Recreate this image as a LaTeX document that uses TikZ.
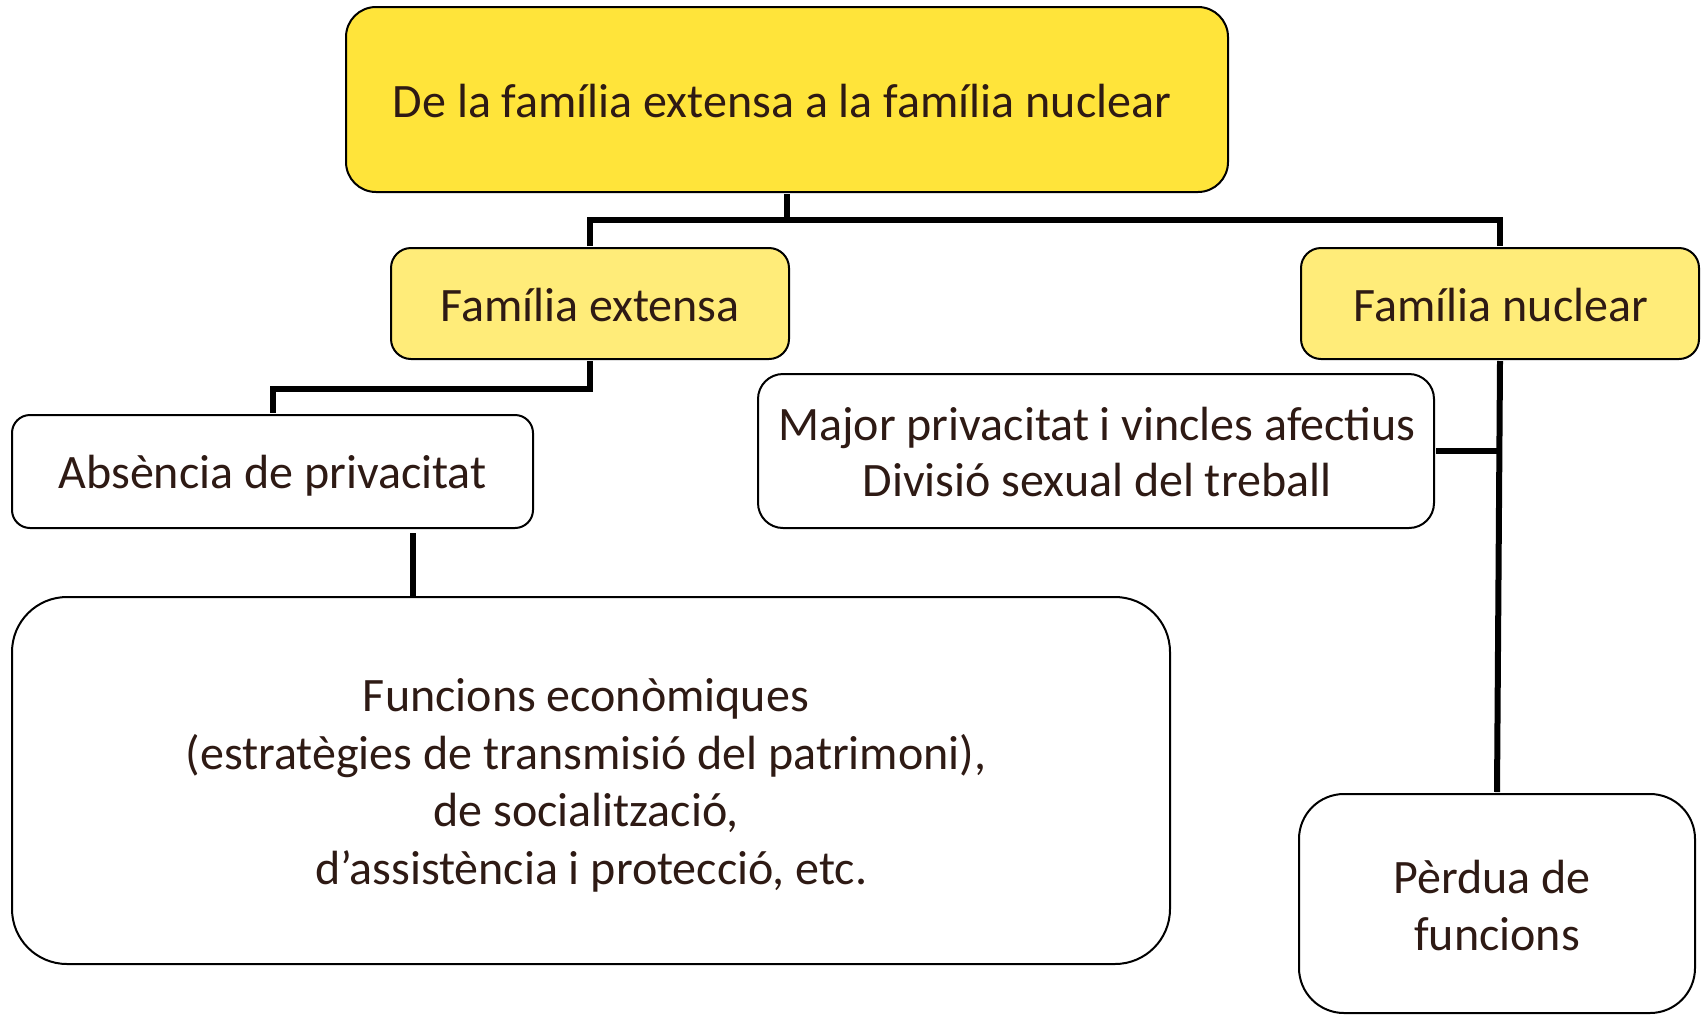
\documentclass[tikz,border=0pt]{standalone}
\usepackage{fontspec}
\setmainfont{Carlito}
\usetikzlibrary{calc}
\definecolor{txt}{HTML}{2E1A14}
\definecolor{ydark}{HTML}{FFE43A}
\definecolor{ylight}{HTML}{FFEC79}
\begin{document}
\begin{tikzpicture}[x=1pt,y=-1pt,
  box/.style={draw=black,line width=2pt,rectangle,inner sep=0pt},
  lbl/.style={inner sep=0pt,align=center,text=txt,font=\fontsize{48}{57.6}\selectfont},
  conn/.style={draw=black,line width=6pt}]
\useasboundingbox (0,0) rectangle (1704,1015);
\node[box,fill=ydark,rounded corners=30pt,minimum width=882pt,minimum height=185pt] (top) at (787,99.5) {};
\node[box,fill=ylight,rounded corners=20pt,minimum width=398pt,minimum height=111pt] (fext) at (590,303.5) {};
\node[box,fill=ylight,rounded corners=20pt,minimum width=398pt,minimum height=111pt] (fnuc) at (1500,303.5) {};
\node[box,fill=white,rounded corners=18pt,minimum width=521pt,minimum height=113pt] (abs) at (272.5,471.5) {};
\node[box,fill=white,rounded corners=25pt,minimum width=676pt,minimum height=154pt] (major) at (1096,451) {};
\node[box,fill=white,rounded corners=55pt,minimum width=1158pt,minimum height=367pt] (func) at (591,780.5) {};
\node[box,fill=white,rounded corners=45pt,minimum width=396pt,minimum height=219pt] (perd) at (1497,903.5) {};
\node[lbl] (topT) at ($(top.center)+(-5,2)$) {De la família extensa a la família nuclear};
\node[lbl] (fextT) at ($(fext.center)+(0,2)$) {Família extensa};
\node[lbl] (fnucT) at ($(fnuc.center)+(1,2)$) {Família nuclear};
\node[lbl] (absT) at ($(abs.center)+(0,4)$) {Absència de privacitat};
\node[lbl,font=\fontsize{48}{56.5}\selectfont] (majorT) at ($(major.center)+(1,1)$) {Major privacitat i vincles afectius\\Divisió sexual del treball};
\node[lbl] (funcT) at ($(func.center)+(-5,5)$) {Funcions econòmiques\\(estratègies de transmisió del patrimoni),\\de socialització,\\\hspace*{11pt}d’assistència i protecció, etc.};
\node[lbl] (perdT) at ($(perd.center)+(0,2)$) {Pèrdua de\hspace*{10pt}\\funcions};
\coordinate (bus) at (787,220);
\draw[conn] ([yshift=-1pt]top.south) -- (bus);
\draw[conn] ([yshift=1pt]fext.north) |- (bus) -| ([yshift=1pt]fnuc.north);
\draw[conn] ([yshift=-1pt]fext.south) -- ++(0,28) -| ([yshift=1pt]abs.north);
\draw[conn] ([shift={(140.5,4)}]abs.south) -- ([shift={(140.5,0)}]abs.south |- func.north);
\draw[conn] ([yshift=-1pt]fnuc.south) -- ([yshift=1pt]perd.north);
\draw[conn] ([xshift=1pt]major.east) -- (major.east -| fnuc.south);
\end{tikzpicture}
\end{document}
